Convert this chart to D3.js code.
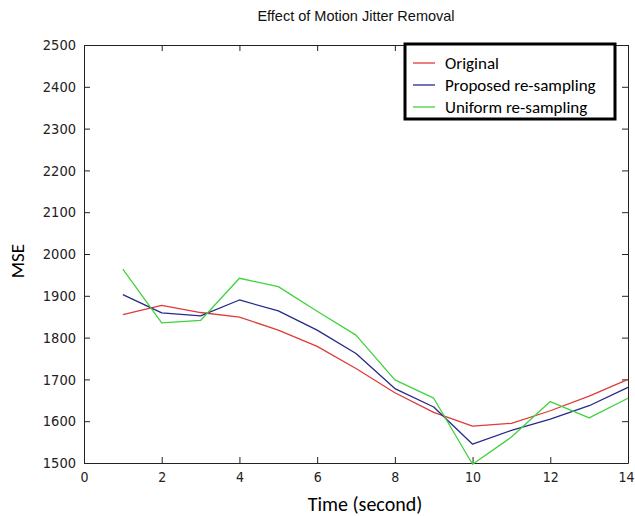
<!DOCTYPE html>
<html>
<head>
<meta charset="utf-8">
<script src="https://cdn.jsdelivr.net/npm/d3@7/dist/d3.min.js"></script>
<style>
    body { margin: 0; background: #fff; }
    .tick text { font-family: "DejaVu Sans Condensed", "Liberation Sans", Arial, sans-serif; font-stretch: condensed; }
</style>
</head>
<body>
<div id="container"><svg></svg></div>
<script>
// time in seconds
let times = [1, 2, 3, 4, 5, 6, 7, 8, 9, 10, 11, 12, 13, 14];
let original = [1855, 1877, 1860, 1849, 1818, 1779, 1726, 1668, 1621, 1588, 1595, 1625, 1660, 1700];
let proposed = [1903, 1859, 1852, 1890, 1864, 1818, 1762, 1678, 1634, 1545, 1578, 1605, 1637, 1681];
let uniform = [1964, 1835, 1841, 1942, 1922, 1863, 1806, 1699, 1655, 1497, 1562, 1647, 1608, 1655];
let series_names = ['Original', 'Proposed re-sampling', 'Uniform re-sampling'];
let series_colors = ['#e03a3a', '#262a8a', '#3fd23f'];
let x_ticks = [0, 2, 4, 6, 8, 10, 12, 14];
let y_ticks = [1500, 1600, 1700, 1800, 1900, 2000, 2100, 2200, 2300, 2400, 2500];

let _width = 635;
let _height = 516;
let labelFont = "Carlito, Lato, 'Open Sans', sans-serif";

function draw_main(width, height) {
    let box = {'left': 84, 'right': 628, 'top': 45, 'bottom': 463};
    let svg = d3.select('#container').select('svg')
        .attr('width', width)
        .attr('height', height);

    let x = d3.scaleLinear().domain([0, 14]).range([box.left, box.right]);
    let y = d3.scaleLinear().domain([1500, 2500]).range([box.bottom, box.top]);

    // title
    svg.append('text')
        .attr('x', (box.left + box.right) / 2)
        .attr('y', 21)
        .attr('text-anchor', 'middle')
        .attr('font-family', '"Liberation Sans", Arial, sans-serif')
        .attr('font-size', '14.5px')
        .attr('fill', '#111')
        .text('Effect of Motion Jitter Removal');

    // axes, ticks point inward like matlab
    let gx = svg.append('g')
        .attr('transform', `translate(0, ${box.bottom})`)
        .call(d3.axisBottom(x).tickValues(x_ticks).tickFormat(d3.format('d'))
            .tickSizeInner(-6).tickSizeOuter(0).tickPadding(9))
        .attr('font-size', '14px');
    // keep the last label inside the page
    gx.selectAll('.tick text').filter(d => d == 14).attr('dx', '-2');
    svg.append('g')
        .attr('transform', `translate(${box.left}, 0)`)
        .call(d3.axisLeft(y).tickValues(y_ticks).tickFormat(d3.format('d'))
            .tickSizeInner(-6).tickSizeOuter(0).tickPadding(8))
        .attr('font-size', '14.5px');
    svg.append('g')
        .attr('transform', `translate(0, ${box.top})`)
        .call(d3.axisTop(x).tickValues(x_ticks).tickSizeInner(-6).tickSizeOuter(0).tickFormat(''));
    svg.append('g')
        .attr('transform', `translate(${box.right}, 0)`)
        .call(d3.axisRight(y).tickValues(y_ticks).tickSizeInner(-6).tickSizeOuter(0).tickFormat(''));
    svg.selectAll('.domain, .tick line').attr('stroke', '#222');
    svg.selectAll('.tick text').attr('fill', '#222');

    // axis labels
    svg.append('text')
        .attr('x', (box.left + box.right) / 2 + 9)
        .attr('y', 511)
        .attr('text-anchor', 'middle')
        .attr('font-family', labelFont)
        .attr('font-size', '20px')
        .text('Time (second)');
    svg.append('text')
        .attr('transform', `translate(24, 261) rotate(-90)`)
        .attr('text-anchor', 'middle')
        .attr('font-family', labelFont)
        .attr('font-size', '19px')
        .text('MSE');

    // lines
    let all = [original, proposed, uniform];
    let line = d3.line()
        .x((d, i) => x(times[i]))
        .y(d => y(d));
    svg.append('g')
        .selectAll('path')
        .data(all)
        .enter().append('path')
        .attr('d', d => line(d))
        .attr('fill', 'none')
        .attr('stroke', (d, i) => series_colors[i])
        .attr('stroke-width', 1.3)
        .attr('stroke-linejoin', 'round');

    // legend
    let lg = svg.append('g');
    lg.append('rect')
        .attr('x', 405).attr('y', 44)
        .attr('width', 210).attr('height', 75)
        .attr('fill', '#fff')
        .attr('stroke', '#000')
        .attr('stroke-width', 3);
    series_names.forEach((name, i) => {
        let cy = 63 + i * 22;
        lg.append('line')
            .attr('x1', 413).attr('x2', 435)
            .attr('y1', cy).attr('y2', cy)
            .attr('stroke', series_colors[i])
            .attr('stroke-width', 1.3);
        lg.append('text')
            .attr('x', 445).attr('y', cy)
            .attr('dy', '0.35em')
            .attr('font-family', labelFont)
            .attr('font-size', '17px')
            .text(name);
    });
}

function main() {
    draw_main(_width, _height);
}

main()
</script>
</body>
</html>
